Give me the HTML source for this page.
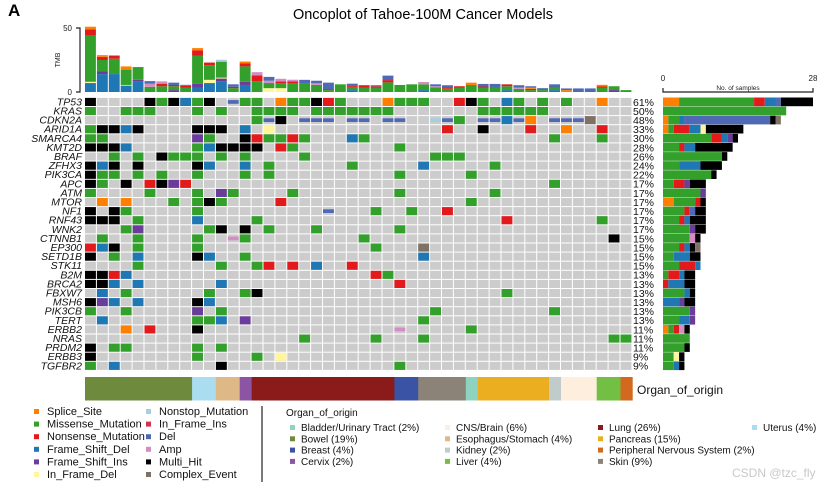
<!DOCTYPE html>
<html><head><meta charset="utf-8"><style>
html,body{margin:0;padding:0;background:#fff;}
svg{display:block;font-family:"Liberation Sans",Arial,sans-serif;}
</style></head><body>
<svg id="chart" width="840" height="488" viewBox="0 0 840 488" xmlns="http://www.w3.org/2000/svg">
<rect width="840" height="488" fill="#fff"/>
<text x="8" y="16" font-size="17" font-weight="bold">A</text>
<text x="423" y="19" font-size="14.5" text-anchor="middle">Oncoplot of Tahoe-100M Cancer Models</text>
<g id="tmb"></g>
<g id="grid"></g>
<g id="rbar"></g>
<g id="organ"></g>
<g id="legend"></g>
</svg>
<script>
const genes=["TP53","KRAS","CDKN2A","ARID1A","SMARCA4","KMT2D","BRAF","ZFHX3","PIK3CA","APC","ATM","MTOR","NF1","RNF43","WNK2","CTNNB1","EP300","SETD1B","STK11","B2M","BRCA2","FBXW7","MSH6","PIK3CB","TERT","ERBB2","NRAS","PRDM2","ERBB3","TGFBR2"];
const pctLabels=["61%","50%","48%","33%","30%","28%","26%","24%","22%","17%","17%","17%","17%","17%","17%","15%","15%","15%","15%","13%","13%","13%","13%","13%","13%","11%","11%","11%","9%","9%"];
const mutations=[
"0H 5H 6M 7H 8F 9M 10H 12D 13M 14M 16S 17M 18M 19H 20N 21M 25S 26M 27M 28M 31N 32H 33M 35F 36M 38M 40M 43S",
"0M 3M 4M 5M 9M 11M 14M 15M 16M 17M 19M 20M 21M 22M 23M 24M 25M 33M 34M 35M 36M 37M 38M",
"14M 15D 16H 18D 19D 20D 22D 23D 25D 26D 29T 30D 31M 33D 34D 35F 36D 37S 39D 40D 41D 42C",
"0M 1H 2H 3F 4H 9H 10H 11H 13F 15Y 30N 33H 37N 40S 43N",
"0M 1M 9I 10M 13H 14N 15M 16M 17N 18M 22F 23M 39M 43M",
"0H 1H 2H 3F 9M 10F 11H 12H 13H 14H 16N 17M 26M",
"2M 4M 6H 7M 8M 9M 11M 13M 18M 29M 30M 31M",
"0H 1F 2H 4H 9H 10F 13F 15M 22M 28F 34M",
"0H 1M 2M 4M 6M 9M 13M 15M 26M 32M",
"0H 1M 3H 5N 6H 7I 8N 39M",
"0M 5M 9M 11I 12M 17M 26M 34M",
"1S 3S 7M 9M 10H 11M 16N 32M",
"0H 2H 3M 9M 20D 24M 27M 30N",
"0H 1H 2H 4M 9F 14M 35N 43M",
"3M 4I 10M 11H 13H 15M 19M 26M",
"1M 4M 9M 12A 13M 23M 44H",
"0N 1F 2H 4M 9M 24M 28C",
"0H 2M 4F 9H 10F 13M 28F",
"4M 11M 14M 15N 17N 19F 22N",
"0H 1H 2N 3F 24N 25M",
"0H 1H 2F 4F 11F 26N",
"1F 3M 10M 13M 14H 35M",
"0H 1I 2F 4F 9H 10F",
"0M 3M 9I 11M 29M 39M",
"1F 9M 10M 11F 13I 28M",
"3S 5N 9H 26A 32M",
"18M 24M 28M 44M 45M",
"0H 2M 3M 9M 11M",
"0H 9M 14M 16Y",
"0M 2F 11H 26M"];
const tmbFrameShiftDel=[7,14,14,5,8,0,0,0,0,3.5,7,8.5,0,5.5,0,0,0,0,0,0,0,0,1.5,0,0,0,0,0,1.5,0,0,0,0,0,0,1.5,0,0,0,1.5,0,0,0,0,0,0];
const tmbFrameShiftIns=[0,2,0,0,1.5,0,0,1.5,0,3,0,2,0,2.5,0,0,0,0,0,0,0,0,0,0,0,0,0,0,0,0,0,0,0,0,0,0,0,0,0,0,0,0,0,0,1.5,0];
const tmbInFrameDel=[1,0,0,0.5,0,0,0,0,0,0,2.5,0.7,0,0,0,3,3,0,0,0,0,0,0,0,0,0,0,0,0,0,0,0,0,0,0,0,0,0,0,0,0,0,0,0,0,0];
const tmbMissense=[36,9,12,12,10,4,4.5,3,3.5,22,11.5,12.5,3,12,8.5,4,4,7,7,5.5,1.5,6,2.5,3.5,3.5,7.5,5.5,6,4.5,3.5,2.5,3.5,5.5,3.5,3.5,3,2.5,1.5,1.5,2,0,0,0,3.5,3,1.5];
const tmbNonsense=[5,2.5,2.5,0,0,0,2,1,1.3,4,2,0,1,2.5,4.5,0,1.3,1.3,0,0,0.8,0,1,1.8,1,1.8,0,0,0,0,1,1,0,0.8,0,1.5,0,1,0,0,0,0,0,0.8,0,0];
const tmbSplice=[2,1.3,0,2.5,0,0,0,0,0,1.8,0,0,0,1.3,0,0,0,0,0,0,0,0,0,0,0,0,0,0,0,0,0,0,1.8,0,0,0,0,1,0,0,1.5,0,0,1.3,0,0];
const tmbAmp=[0,0,0,0,0,2.5,1.8,0,0,0,0,0,0,0,2.5,1.8,2,1.3,0,1.3,0,0,0,0,0,0,0,0,1.8,1,0,0,0,0,0,0,1,0,0,0,0,0,0,0,0,0];
const tmbDel=[0,0,0,0,0,2,0,1.8,0.8,0,0,0,2,0,0,3,0,0,2.5,2,5,0,1.5,0,0.8,3.5,0,0,0,1.5,1.8,0,0,2,2.8,0,1.8,1,1.5,2.5,1.3,2.8,2.8,0,0,0];
const tmbNonstop=[0,0,0,0,0,0,0,0,0,0,0,1.5,0,0,0,0,0,0,0,0,0,0,0,0,0,0,0,0,0,0,0,0,0,0,0,0,0,0,0,0,0,0,0,0,0,0];
const tmbTicks=[0,50];
const organNames=["Bowel","Uterus","Esophagus/Stomach","Cervix","Lung","Breast","Skin","Bladder/Urinary Tract","Pancreas","Kidney","CNS/Brain","Liver","Peripheral Nervous System"];
const organCounts=[9,2,2,1,12,2,4,1,6,1,3,2,1];
const freqTicks=[0,28];

const C={S:"#FF7F00",M:"#33A02C",N:"#E31A1C",F:"#1F78B4",I:"#6A3D9A",Y:"#FFF59D",T:"#A6CEE3",E:"#D0344A",D:"#4F69B5",A:"#D48CC2",H:"#000000",C:"#7F7163"};
const organColors={"Bladder/Urinary Tract":"#8DD3C0","Bowel":"#6E8B3D","Breast":"#3A53A4","Cervix":"#8B55A3","CNS/Brain":"#FDEEDD","Esophagus/Stomach":"#DEB887","Kidney":"#C0CCCC","Liver":"#72BF44","Lung":"#8B1A1A","Pancreas":"#EBAE21","Peripheral Nervous System":"#D2691E","Skin":"#8B8378","Uterus":"#A9DDEF"};
const NS="http://www.w3.org/2000/svg";
function mk(tag,attrs,parent){const e=document.createElementNS(NS,tag);for(const k in attrs)e.setAttribute(k,attrs[k]);parent.appendChild(e);return e;}
const nCol=46,x0=85,cw=11.9,y0=97.5,rh=9.1;
const colX=i=>x0+i*cw, rowY=r=>y0+r*rh;
const tmbG=document.getElementById('tmb');
const tmbY=v=>92-v*1.28;
const stacks=[["F",tmbFrameShiftDel],["I",tmbFrameShiftIns],["Y",tmbInFrameDel],["M",tmbMissense],["N",tmbNonsense],["S",tmbSplice],["A",tmbAmp],["D",tmbDel],["T",tmbNonstop]];
for(let i=0;i<nCol;i++){let acc=0;for(const [k,arr] of stacks){const v=arr[i];if(!v)continue;
const r=mk('rect',{x:colX(i),y:tmbY(acc+v),width:cw-1,height:v*1.28,fill:C[k]},tmbG);


acc+=v;}}
const ax=mk('path',{d:`M76 ${tmbY(50)} H80 V${tmbY(0)} H76`,stroke:"#222","stroke-width":1.2,fill:"none"},tmbG);


for(const t of tmbTicks){const tt=mk('text',{x:72,y:tmbY(t)+3,"font-size":8,"text-anchor":"end",fill:"#222"},tmbG);tt.textContent=t;

}
const tl=mk('text',{x:0,y:0,"font-size":7,"text-anchor":"middle",transform:"translate(60,60) rotate(-90)",fill:"#222"},tmbG);tl.textContent="TMB";


const gG=document.getElementById('grid');
mk('rect',{x:x0,y:y0,width:nCol*cw,height:genes.length*rh,fill:"#fff"},gG);
genes.forEach((g,r)=>{
 const lab=mk('text',{x:82,y:rowY(r)+rh-1.2,"font-size":10.5,"font-style":"italic","text-anchor":"end",fill:"#111"},gG);lab.textContent=g;
 
 
 const pl=mk('text',{x:633,y:rowY(r)+rh-0.8,"font-size":10.5,fill:"#111"},gG);pl.textContent=pctLabels[r];
 
 
 const muts={};mutations[r].split(' ').forEach(s=>{muts[parseInt(s)]=s.replace(/[0-9]/g,'');});
 for(let i=0;i<nCol;i++){
  const bg=mk('rect',{x:colX(i),y:rowY(r)+0.4,width:cw-1,height:rh-1,fill:"#CCCCCC"},gG);
  
  
  const k=muts[i];if(!k)continue;
  const thin=(k==="D"||k==="A"||k==="T");
  const m=mk('rect',{x:colX(i),y:rowY(r)+0.4+(thin?2.2:0),width:cw-1,height:thin?rh-5.4:rh-1,fill:C[k]},gG);
  
  
 }
});
const rG=document.getElementById('rbar');
const fx=v=>663+v*150/28;
const order=["S","M","N","F","I","Y","E","D","A","H","C"];
genes.forEach((g,r)=>{const cnt={};mutations[r].split(' ').forEach(s=>{const k=s.replace(/[0-9]/g,'');const kk=(k==="T")?"D":k;cnt[kk]=(cnt[kk]||0)+1;});
 let acc=0;for(const k of order){if(!cnt[k])continue;
 const b=mk('rect',{x:fx(acc),y:rowY(r),width:cnt[k]*150/28,height:rh-0.4,fill:C[k]},rG);
 
 
 acc+=cnt[k];}});
const rax=mk('path',{d:`M${fx(0)} 88 V92 H${fx(28)} V88`,stroke:"#222","stroke-width":1.2,fill:"none"},rG);


for(const t of freqTicks){const tt=mk('text',{x:fx(t),y:81,"font-size":8,"text-anchor":"middle",fill:"#222"},rG);tt.textContent=t;

}
const st=mk('text',{x:738,y:90,"font-size":6.5,"text-anchor":"middle",fill:"#222"},rG);st.textContent="No. of samples";


const oG=document.getElementById('organ');
let oc=0;organNames.forEach((o,j)=>{const s=mk('rect',{x:colX(oc),y:377,width:organCounts[j]*cw+0.3,height:23.5,fill:organColors[o]},oG);


oc+=organCounts[j];});
const ot=mk('text',{x:637,y:394,"font-size":12,fill:"#111"},oG);ot.textContent="Organ_of_origin";


const lG=document.getElementById('legend');
const leg1=[["S","Splice_Site"],["M","Missense_Mutation"],["N","Nonsense_Mutation"],["F","Frame_Shift_Del"],["I","Frame_Shift_Ins"],["Y","In_Frame_Del"]];
const leg2=[["T","Nonstop_Mutation"],["E","In_Frame_Ins"],["D","Del"],["A","Amp"],["H","Multi_Hit"],["C","Complex_Event"]];
function legItem(x,y,col,txt,fs,sq,gap){const r=mk('rect',{x:x,y:y-sq+1,width:sq,height:sq,fill:col},lG);


const t=mk('text',{x:x+sq+gap,y:y+2,"font-size":fs,fill:"#111"},lG);t.textContent=txt;

}
leg1.forEach((e,i)=>legItem(34,413+i*12.6,C[e[0]],e[1],11,5,8));
leg2.forEach((e,i)=>legItem(146,413+i*12.6,C[e[0]],e[1],11,5,8));
const vl=mk('line',{x1:262,y1:406,x2:262,y2:482,stroke:"#222","stroke-width":1.2},lG);


const oh=mk('text',{x:286,y:416,"font-size":10,fill:"#111"},lG);oh.textContent="Organ_of_origin";


const ocols=[[290,["Bladder/Urinary Tract (2%)","Bowel (19%)","Breast (4%)","Cervix (2%)"]],[445,["CNS/Brain (6%)","Esophagus/Stomach (4%)","Kidney (2%)","Liver (4%)"]],[598,["Lung (26%)","Pancreas (15%)","Peripheral Nervous System (2%)","Skin (9%)"]],[752,["Uterus (4%)"]]];
ocols.forEach(([x,items])=>items.forEach((txt,i)=>{const nm=txt.replace(/ \(.*\)/,'');legItem(x,429+i*11.3,organColors[nm],txt,10,5,6);}));
const wm=mk('text',{x:732,y:477,"font-size":12,fill:"#c8c8c8"},lG);wm.textContent="CSDN @tzc_fly";


</script>
</body></html>
